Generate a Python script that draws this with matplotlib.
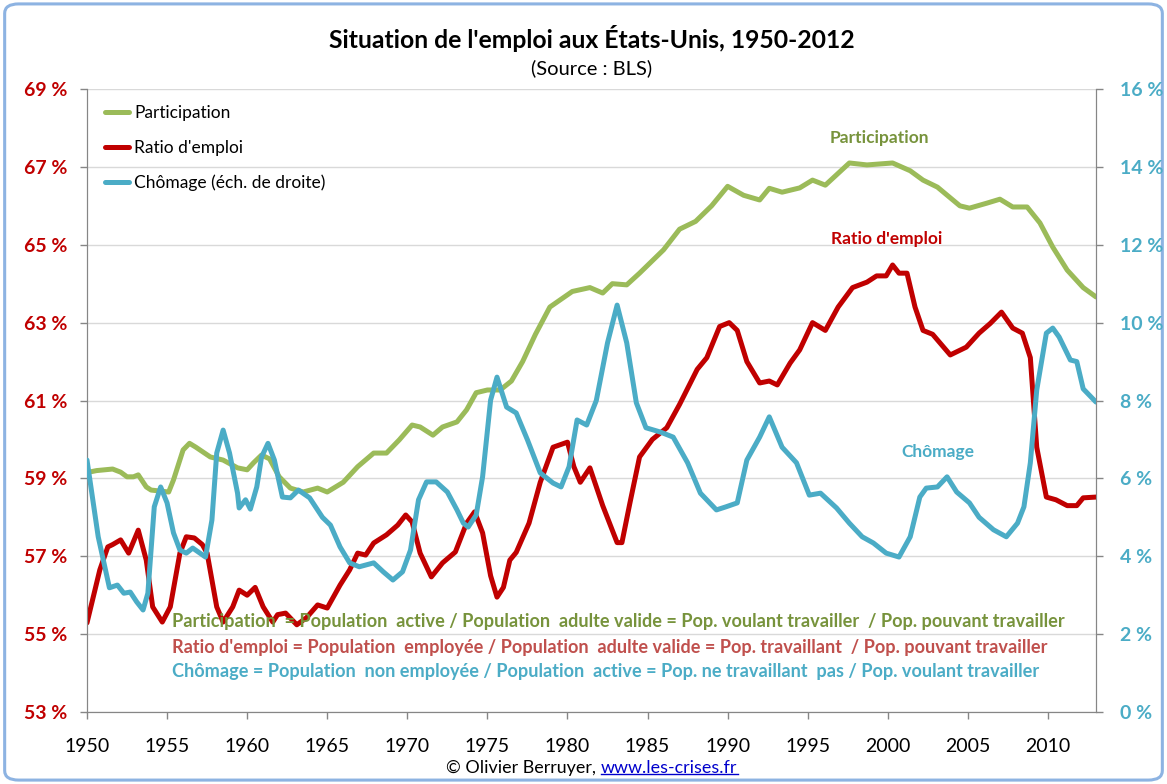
import matplotlib
matplotlib.use("Agg")
import matplotlib.pyplot as plt
from matplotlib.patches import FancyBboxPatch
from matplotlib.lines import Line2D

plt.rcParams['font.family'] = ['Lato', 'DejaVu Sans']

# --- data (year, %) ---
part_years = [1950.0, 1950.6, 1951.6, 1952.1, 1952.5, 1952.9, 1953.2, 1953.7, 1954.0, 1955.1,
              1955.4, 1956.0, 1956.4, 1956.8, 1957.7, 1958.5, 1959.4, 1960.0, 1960.4, 1960.9,
              1961.4, 1962.0, 1962.7, 1963.5, 1964.4, 1965.0, 1966.0, 1966.9, 1967.9, 1968.7,
              1969.5, 1970.3, 1970.8, 1971.6, 1972.2, 1973.1, 1973.7, 1974.3, 1975.0, 1975.8,
              1976.5, 1977.2, 1978.0, 1978.9, 1980.3, 1981.4, 1982.2, 1982.8, 1983.7, 1984.5,
              1986.0, 1987.0, 1988.0, 1989.0, 1990.0, 1991.0, 1992.0, 1992.6, 1993.4, 1994.5,
              1995.3, 1996.1, 1997.6, 1998.7, 2000.3, 2001.4, 2002.2, 2003.1, 2004.5, 2005.1,
              2006.2, 2007.0, 2007.8, 2008.7, 2009.5, 2010.3, 2011.2, 2012.2, 2013.0]
participation = [59.15, 59.2, 59.24, 59.16, 59.04, 59.04, 59.09, 58.78, 58.7, 58.65,
                 58.96, 59.73, 59.9, 59.8, 59.55, 59.47, 59.27, 59.22, 59.4, 59.6,
                 59.5, 59.04, 58.75, 58.65, 58.75, 58.65, 58.9, 59.3, 59.65, 59.65,
                 59.99, 60.37, 60.32, 60.11, 60.32, 60.45, 60.76, 61.2, 61.27, 61.27,
                 61.5, 62.0, 62.7, 63.4, 63.8, 63.9, 63.76, 64.0, 63.97, 64.27,
                 64.87, 65.4, 65.6, 66.0, 66.5, 66.27, 66.15, 66.45, 66.35, 66.46,
                 66.66, 66.53, 67.1, 67.05, 67.1, 66.9, 66.66, 66.48, 66.0, 65.94,
                 66.07, 66.17, 65.97, 65.97, 65.56, 64.94, 64.35, 63.9, 63.66]

ratio_years = [1950.0, 1950.8, 1951.3, 1951.6, 1952.1, 1952.6, 1953.2, 1953.7, 1954.1, 1954.7,
               1955.2, 1955.8, 1956.2, 1956.7, 1957.2, 1957.5, 1958.1, 1958.5, 1959.1, 1959.5,
               1960.0, 1960.5, 1961.0, 1961.6, 1961.9, 1962.4, 1963.1, 1963.7, 1964.4, 1965.0,
               1965.8, 1966.4, 1966.9, 1967.4, 1967.9, 1968.7, 1969.4, 1969.9, 1970.3, 1970.8,
               1971.5, 1972.2, 1973.0, 1973.7, 1974.2, 1974.7, 1975.2, 1975.6, 1976.0, 1976.4,
               1976.8, 1977.6, 1978.3, 1979.1, 1980.0, 1980.4, 1980.8, 1981.4, 1982.2, 1983.1,
               1983.4, 1983.9, 1984.5, 1985.3, 1986.2, 1987.0, 1988.1, 1988.7, 1989.5, 1990.1,
               1990.6, 1991.2, 1992.0, 1992.6, 1993.1, 1993.9, 1994.5, 1995.3, 1996.1, 1996.9,
               1997.8, 1998.7, 1999.3, 1999.9, 2000.3, 2000.7, 2001.2, 2001.7, 2002.2, 2002.8,
               2003.9, 2004.9, 2005.7, 2006.4, 2007.1, 2007.8, 2008.4, 2008.9, 2009.3, 2009.9,
               2010.5, 2011.2, 2011.8, 2012.2, 2013.0]
ratio_emploi = [55.29, 56.65, 57.24, 57.3, 57.42, 57.08, 57.67, 56.9, 55.7, 55.31,
                55.7, 57.08, 57.5, 57.47, 57.3, 57.08, 55.7, 55.31, 55.7, 56.13,
                56.0, 56.2, 55.7, 55.31, 55.5, 55.54, 55.24, 55.42, 55.75, 55.67,
                56.26, 56.65, 57.08, 57.03, 57.34, 57.55, 57.8, 58.06, 57.88, 57.08,
                56.47, 56.83, 57.11, 57.85, 58.14, 57.6, 56.5, 55.95, 56.2, 56.9,
                57.1, 57.85, 58.9, 59.8, 59.93, 59.3, 58.9, 59.27, 58.3, 57.35,
                57.35, 58.37, 59.55, 60.0, 60.3, 60.9, 61.8, 62.1, 62.9, 63.0,
                62.8, 62.0, 61.45, 61.5, 61.4, 61.96, 62.3, 63.0, 62.8, 63.4,
                63.9, 64.04, 64.2, 64.2, 64.48, 64.27, 64.27, 63.4, 62.8, 62.7,
                62.17, 62.37, 62.73, 62.98, 63.27, 62.86, 62.73, 62.1, 59.8, 58.52,
                58.45, 58.3, 58.3, 58.5, 58.52]

chom_years = [1950.0, 1950.7, 1951.4, 1951.9, 1952.3, 1952.7, 1953.1, 1953.5, 1953.8, 1954.2,
              1954.6, 1955.0, 1955.4, 1955.8, 1956.2, 1956.6, 1957.4, 1957.8, 1958.1, 1958.5,
              1958.9, 1959.4, 1959.5, 1959.9, 1960.2, 1960.6, 1960.9, 1961.3, 1961.7, 1962.0,
              1962.2, 1962.7, 1963.2, 1963.9, 1964.7, 1965.2, 1965.8, 1966.4, 1967.0, 1967.9,
              1968.5, 1969.1, 1969.7, 1970.2, 1970.7, 1971.2, 1971.8, 1972.5, 1973.1, 1973.5,
              1973.8, 1974.3, 1974.7, 1975.2, 1975.6, 1976.2, 1976.8, 1977.5, 1978.3, 1979.1,
              1979.6, 1980.1, 1980.6, 1981.2, 1981.8, 1982.5, 1983.1, 1983.7, 1984.3, 1984.9,
              1985.8, 1986.6, 1987.5, 1988.3, 1989.3, 1989.9, 1990.6, 1991.2, 1992.0, 1992.6,
              1993.4, 1994.3, 1995.1, 1995.8, 1996.8, 1997.6, 1998.4, 1999.1, 1999.9, 2000.7,
              2001.4, 2002.0, 2002.4, 2003.1, 2003.7, 2004.3, 2005.1, 2005.7, 2006.6, 2007.4,
              2008.1, 2008.5, 2008.9, 2009.3, 2009.9, 2010.3, 2010.7, 2011.4, 2011.8, 2012.2,
              2013.0]
chomage = [6.47, 4.5, 3.19, 3.26, 3.05, 3.08, 2.83, 2.62, 3.05, 5.27,
           5.78, 5.37, 4.6, 4.16, 4.08, 4.21, 3.98, 4.93, 6.65, 7.24,
           6.65, 5.62, 5.24, 5.45, 5.21, 5.78, 6.55, 6.9, 6.47, 5.9,
           5.52, 5.5, 5.7, 5.5, 5.0, 4.8, 4.24, 3.83, 3.73, 3.83,
           3.6, 3.39, 3.6, 4.16, 5.45, 5.91, 5.91, 5.65, 5.19, 4.85,
           4.75, 5.06, 6.04, 8.01, 8.6, 7.83, 7.68, 6.99, 6.14, 5.88,
           5.78, 6.3, 7.5, 7.37, 8.0, 9.48, 10.45, 9.48, 7.94, 7.3,
           7.19, 7.06, 6.4, 5.62, 5.19, 5.27, 5.37, 6.47, 7.06, 7.58,
           6.8, 6.4, 5.57, 5.62, 5.24, 4.85, 4.5, 4.34, 4.08, 3.98,
           4.5, 5.52, 5.75, 5.78, 6.04, 5.65, 5.37, 5.0, 4.68, 4.5,
           4.85, 5.27, 6.4, 8.27, 9.73, 9.86, 9.63, 9.04, 9.0, 8.3,
           7.96]

year_ticks = list(range(1950, 2011, 5))
left_ticks = list(range(53, 70, 2))
right_ticks = list(range(0, 17, 2))

GREEN = '#9BBB59'
RED = '#C00000'
BLUE = '#4BACC6'
GRID = '#D9D9D9'
AXIS = '#868686'

W, H = 1167, 784
fig = plt.figure(figsize=(W / 100, H / 100), dpi=100)
fig.patch.set_facecolor('white')

# rounded frame around the chart
frame = FancyBboxPatch((0.004, 0.005), 0.992, 0.99, boxstyle='round,pad=0,rounding_size=0.012',
                       transform=fig.transFigure, facecolor='none', edgecolor='#8DB3E2',
                       linewidth=2.2, zorder=-1)
fig.patches.append(frame)

ax = fig.add_axes([87 / W, 1 - 712 / H, (1096 - 87) / W, (712 - 89) / H])
ax.set_facecolor('none')
ax2 = ax.twinx()

l1, = ax.plot(part_years, participation, color=GREEN, lw=3.6, solid_capstyle='round',
              solid_joinstyle='round', label='Participation', zorder=3)
l2, = ax.plot(ratio_years, ratio_emploi, color=RED, lw=3.6, solid_capstyle='round',
              solid_joinstyle='round', label="Ratio d'emploi", zorder=3)
l3, = ax2.plot(chom_years, chomage, color=BLUE, lw=3.6, solid_capstyle='round',
               solid_joinstyle='round', label='Chômage (éch. de droite)', zorder=3)

ax.set_xlim(1950, 2013)
ax.set_ylim(53, 69)
ax2.set_ylim(0, 16)

ax.set_yticks(left_ticks)
ax.set_yticklabels([f'{v} %' for v in left_ticks], color=RED, fontweight='bold', fontsize=14)
ax2.set_yticks(right_ticks)
ax2.set_yticklabels([f'{v} %' for v in right_ticks], color=BLUE, fontweight='bold', fontsize=14)
ax.set_xticks(year_ticks)
ax.set_xticklabels([str(y) for y in year_ticks], fontsize=14)

ax.grid(axis='y', color=GRID, lw=1)
ax.set_axisbelow(True)
for a in (ax, ax2):
    a.spines['top'].set_visible(False)
    for s in ('left', 'right', 'bottom'):
        a.spines[s].set_color(AXIS)
ax.tick_params(axis='both', colors=AXIS, length=5, width=1)
ax.tick_params(axis='y', pad=9, labelcolor=RED)
ax.tick_params(axis='x', pad=14, labelcolor='black')
ax2.tick_params(axis='y', colors=AXIS, length=5, width=1, pad=12, labelcolor=BLUE)

leg = ax2.legend(handles=[l1, l2, l3], loc='upper left', bbox_to_anchor=(0.002, 1.0),
                 frameon=False, fontsize=12.5, handlelength=1.4, handletextpad=0.3,
                 labelspacing=1.1)

# series labels inside the plot
ax.text(1999.5, 67.74, 'Participation', color='#77933C', fontweight='bold', fontsize=12.5,
        ha='center', va='center')
ax.text(1999.9, 65.15, "Ratio d'emploi", color=RED, fontweight='bold', fontsize=12.5,
        ha='center', va='center')
ax.text(2003.1, 59.68, 'Chômage', color=BLUE, fontweight='bold', fontsize=12.5,
        ha='center', va='center')

# definitions
defs = [
    ("Participation  = Population  active / Population  adulte valide = Pop. voulant travailler  / Pop. pouvant travailler", '#77933C'),
    ("Ratio d'emploi = Population  employée / Population  adulte valide = Pop. travaillant  / Pop. pouvant travailler", '#C0504D'),
    ("Chômage = Population  non employée / Population  active = Pop. ne travaillant  pas / Pop. voulant travailler", BLUE),
]
for i, (txt, col) in enumerate(defs):
    fig.text(172 / W, 1 - (622 + 25 * i) / H, txt, color=col, fontweight='bold', fontsize=13.1,
             ha='left', va='center', zorder=5)

# title
fig.text(592 / W, 1 - 38 / H, "Situation de l'emploi aux États-Unis, 1950-2012",
         fontsize=17.8, fontweight='bold', ha='center', va='center')
fig.text(592 / W, 1 - 68 / H, "(Source : BLS)", fontsize=14.5, ha='center', va='center')

# footer with underlined link
t1 = fig.text(592 / W, 1 - 768 / H, "© Olivier Berruyer, ", fontsize=12.9, ha='right', va='center')
t2 = fig.text(592 / W, 1 - 768 / H, "www.les-crises.fr", fontsize=12.9, ha='left', va='center',
              color='#0000CC')
fig.canvas.draw()
r = fig.canvas.get_renderer()
b1 = t1.get_window_extent(r)
b2 = t2.get_window_extent(r)
shift = (b1.width + b2.width) / 2 - b1.width
t1.set_position(((592 - shift) / W, 1 - 768 / H))
t2.set_position(((592 - shift) / W, 1 - 768 / H))
fig.canvas.draw()
b2 = t2.get_window_extent(r)
fig.lines.append(Line2D([b2.x0 / W, b2.x1 / W], [(b2.y0 + 2) / H, (b2.y0 + 2) / H],
                        transform=fig.transFigure, color='#0000CC', lw=1))

fig.savefig('out.png', dpi=100)
